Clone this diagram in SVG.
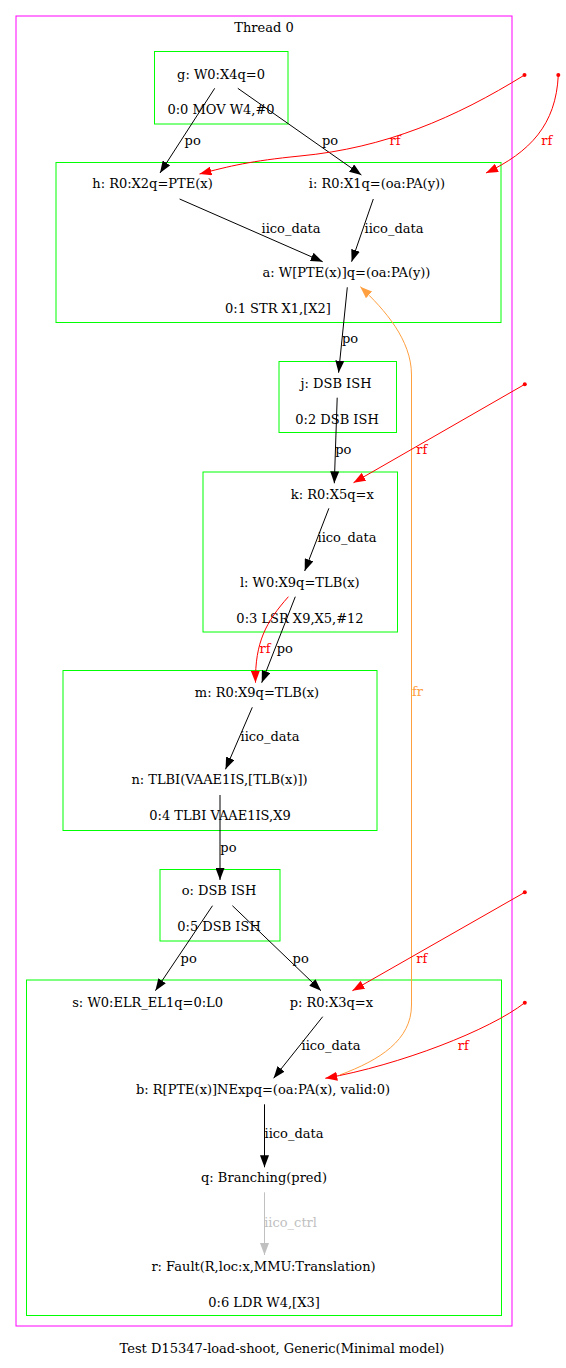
<svg xmlns="http://www.w3.org/2000/svg" width="566" height="1368" viewBox="0 0 566 1368">
<style>
text{font-family:"DejaVu Serif","Liberation Serif",serif;font-size:13px;text-anchor:middle;fill:#000}
.cl{fill:none;stroke:#00ff00;stroke-width:1}
.th{fill:none;stroke:#ff00ff;stroke-width:1}
.e{fill:none;stroke:#000;stroke-width:1}
.rf{fill:none;stroke:#ff0000;stroke-width:1}
.fr{fill:none;stroke:#ffa040;stroke-width:1}
.ct{fill:none;stroke:#c0c0c0;stroke-width:1}
.lr{fill:#ff0000}
.lf{fill:#ffa040}
.lc{fill:#c0c0c0}
</style>
<defs>
<marker id="ab" markerWidth="12" markerHeight="9" refX="12" refY="4.5" orient="auto" markerUnits="userSpaceOnUse" viewBox="0 0 12 9"><path d="M0,0L12,4.5L0,9z" fill="#000"/></marker>
<marker id="ar" markerWidth="12" markerHeight="9" refX="12" refY="4.5" orient="auto" markerUnits="userSpaceOnUse" viewBox="0 0 12 9"><path d="M0,0L12,4.5L0,9z" fill="#ff0000"/></marker>
<marker id="ao" markerWidth="12" markerHeight="9" refX="12" refY="4.5" orient="auto" markerUnits="userSpaceOnUse" viewBox="0 0 12 9"><path d="M0,0L12,4.5L0,9z" fill="#ffa040"/></marker>
<marker id="ag" markerWidth="12" markerHeight="9" refX="12" refY="4.5" orient="auto" markerUnits="userSpaceOnUse" viewBox="0 0 12 9"><path d="M0,0L12,4.5L0,9z" fill="#c0c0c0"/></marker>
</defs>
<rect width="566" height="1368" fill="#fff"/>
<g id="thread0">
<rect class="th" x="16" y="16" width="496" height="1310"/>
<text x="264" y="31.5">Thread 0</text>
</g>
<g id="cluster00">
<rect class="cl" x="154.5" y="51.5" width="133.5" height="72.5"/>
<text x="221" y="114">0:0 MOV W4,#0</text>
</g>
<g id="cluster01">
<rect class="cl" x="56" y="162.5" width="445" height="160"/>
<text x="278" y="313">0:1 STR X1,[X2]</text>
</g>
<g id="cluster02">
<rect class="cl" x="279" y="361.5" width="117.5" height="71"/>
<text x="337" y="423.5">0:2 DSB ISH</text>
</g>
<g id="cluster03">
<rect class="cl" x="203" y="472" width="194.5" height="160"/>
<text x="300" y="622.5">0:3 LSR X9,X5,#12</text>
</g>
<g id="cluster04">
<rect class="cl" x="63" y="670.5" width="314" height="160"/>
<text x="220" y="820">0:4 TLBI VAAE1IS,X9</text>
</g>
<g id="cluster05">
<rect class="cl" x="160" y="869.5" width="120" height="71.5"/>
<text x="219" y="931">0:5 DSB ISH</text>
</g>
<g id="cluster06">
<rect class="cl" x="26.5" y="980" width="475" height="335.5"/>
<text x="264" y="1306.5">0:6 LDR W4,[X3]</text>
</g>
<g id="g"><text x="221" y="79">g: W0:X4q=0</text></g>
<g id="h"><text x="152.5" y="188">h: R0:X2q=PTE(x)</text></g>
<g id="i"><text x="377" y="188">i: R0:X1q=(oa:PA(y))</text></g>
<g id="a"><text x="346.5" y="277">a: W[PTE(x)]q=(oa:PA(y))</text></g>
<g id="j"><text x="336" y="387.5">j: DSB ISH</text></g>
<g id="k"><text x="332.3" y="498.5">k: R0:X5q=x</text></g>
<g id="l"><text x="299.8" y="586.5">l: W0:X9q=TLB(x)</text></g>
<g id="m"><text x="257" y="696.5">m: R0:X9q=TLB(x)</text></g>
<g id="n"><text x="219.5" y="784">n: TLBI(VAAE1IS,[TLB(x)])</text></g>
<g id="o"><text x="219" y="895">o: DSB ISH</text></g>
<g id="s"><text x="147.6" y="1006.7">s: W0:ELR_EL1q=0:L0</text></g>
<g id="p"><text x="331.4" y="1006.7">p: R0:X3q=x</text></g>
<g id="b"><text x="263" y="1094.3">b: R[PTE(x)]NExpq=(oa:PA(x), valid:0)</text></g>
<g id="q"><text x="264" y="1181.7">q: Branching(pred)</text></g>
<g id="r"><text x="263.5" y="1270.7">r: Fault(R,loc:x,MMU:Translation)</text></g>
<g id="connectors">
<path class="e" d="M214.7,88.3L160,173" marker-end="url(#ab)"/>
<text x="192.7" y="145">po</text>
<path class="e" d="M237.8,88.3L361.4,175" marker-end="url(#ab)"/>
<text x="330" y="145">po</text>
<circle class="lr" cx="524.5" cy="75" r="2"/>
<path class="rf" d="M524.5,75C455,118 385,148 300,156C250,161 230,166 199.5,174" marker-end="url(#ar)"/>
<text class="lr" x="395" y="145">rf</text>
<circle class="lr" cx="558.3" cy="75" r="2"/>
<path class="rf" d="M558.3,75C556,125 530,152 486,173" marker-end="url(#ar)"/>
<text class="lr" x="546.8" y="145">rf</text>
<path class="e" d="M179.6,199L322.7,261.7" marker-end="url(#ab)"/>
<text x="291" y="232.7">iico_data</text>
<path class="e" d="M373.3,199L351.6,261.7" marker-end="url(#ab)"/>
<text x="394" y="232.7">iico_data</text>
<path class="e" d="M347.3,287.3L338.6,372.7" marker-end="url(#ab)"/>
<text x="350" y="343.3">po</text>
<path class="fr" d="M339.7,1075C380,1060 411.5,1040 411.5,1005L411.5,375C411.5,340 385,310 360.3,286.7" marker-end="url(#ao)"/>
<text class="lf" x="417.4" y="696">fr</text>
<path class="e" d="M337.2,397.7L334.3,483.3" marker-end="url(#ab)"/>
<text x="343.3" y="454.3">po</text>
<circle class="lr" cx="524.8" cy="384.3" r="2"/>
<path class="rf" d="M524.8,384.3L353.5,482.7" marker-end="url(#ar)"/>
<text class="lr" x="421.8" y="454.3">rf</text>
<path class="e" d="M328.9,508.3L304.7,571" marker-end="url(#ab)"/>
<text x="347" y="542.3">iico_data</text>
<path class="e" d="M295.3,596.7L261.7,682.7" marker-end="url(#ab)"/>
<text x="284.8" y="652.7">po</text>
<path class="rf" d="M288.4,596.7C266,622 255,642 255.5,682.7" marker-end="url(#ar)"/>
<text class="lr" x="265" y="652.7">rf</text>
<path class="e" d="M252.3,707.3L225.5,769.3" marker-end="url(#ab)"/>
<text x="270" y="740.7">iico_data</text>
<path class="e" d="M220,795L220,880" marker-end="url(#ab)"/>
<text x="228.4" y="851.7">po</text>
<path class="e" d="M212.5,905.7L155.4,990.7" marker-end="url(#ab)"/>
<text x="188.7" y="962.7">po</text>
<path class="e" d="M232.4,905.7L321,990.7" marker-end="url(#ab)"/>
<text x="300.7" y="962.7">po</text>
<circle class="lr" cx="524.8" cy="892.3" r="2"/>
<path class="rf" d="M524.8,892.3L352.4,990.7" marker-end="url(#ar)"/>
<text class="lr" x="421.8" y="962.7">rf</text>
<path class="e" d="M322.7,1016.7L273.6,1078.3" marker-end="url(#ab)"/>
<text x="331" y="1050">iico_data</text>
<circle class="lr" cx="524.8" cy="1002.7" r="2"/>
<path class="rf" d="M524.8,1002.7C490,1030 400,1065 325.3,1078.3" marker-end="url(#ar)"/>
<text class="lr" x="463.3" y="1050">rf</text>
<path class="e" d="M264.5,1104.3L264.5,1167.3" marker-end="url(#ab)"/>
<text x="294" y="1138.3">iico_data</text>
<path class="ct" d="M264.5,1192.3L264.5,1255" marker-end="url(#ag)"/>
<text class="lc" x="290.6" y="1226.7">iico_ctrl</text>
</g>
<text x="282" y="1353.3">Test D15347-load-shoot, Generic(Minimal model)</text>
</svg>
